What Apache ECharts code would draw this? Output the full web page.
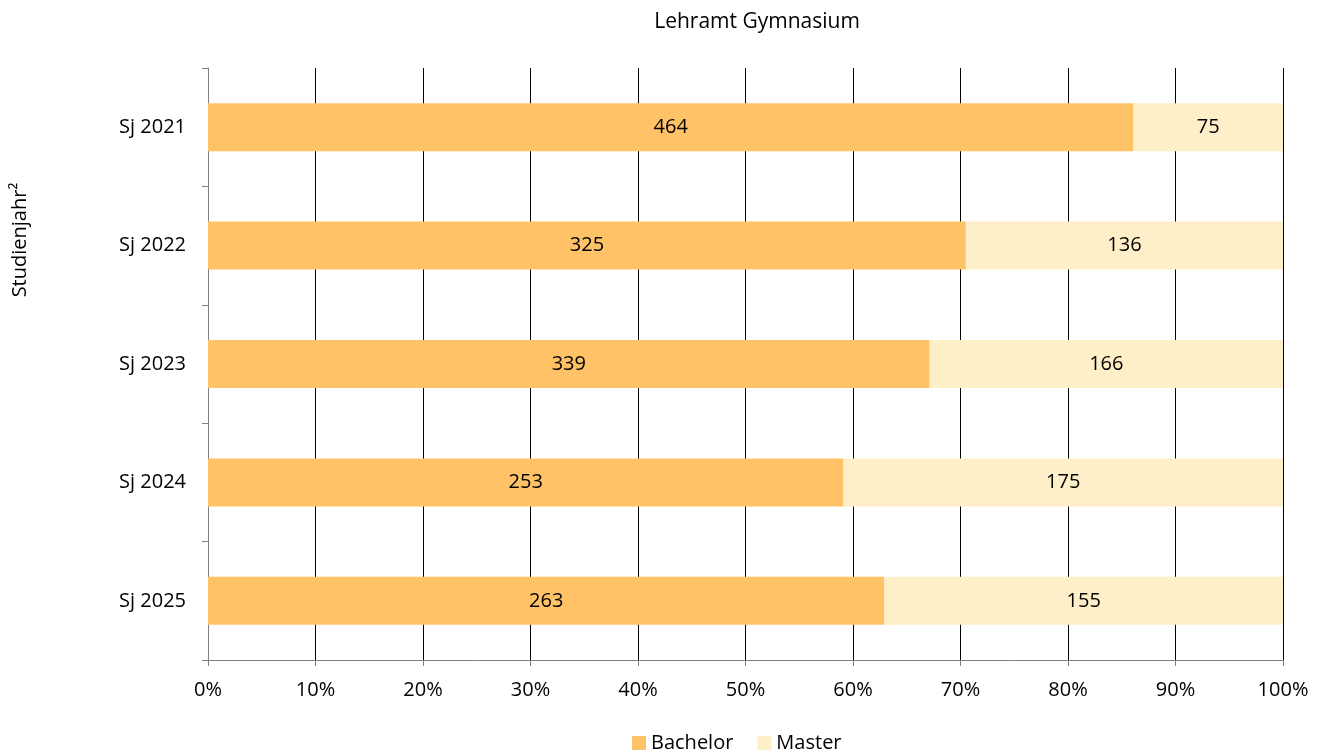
<!DOCTYPE html>
<html><head><meta charset="utf-8">
<script src="https://cdn.jsdelivr.net/npm/echarts@6/dist/echarts.min.js"></script>
<style>html,body{margin:0;padding:0;background:#fff}#c{width:1323px;height:754px}</style>
</head><body><div id="c"></div>
<script>
const categories = ['Sj 2021','Sj 2022','Sj 2023','Sj 2024','Sj 2025'];
const bachelor = [464, 325, 339, 253, 263];
const master = [75, 136, 166, 175, 155];
const xTicks = [0,10,20,30,40,50,60,70,80,90,100];

const totals = bachelor.map((b,i)=>b+master[i]);
const bShare = bachelor.map((b,i)=>b/totals[i]*100);
const mShare = master.map((m,i)=>m/totals[i]*100);
const FONT = '"Open Sans", "Liberation Sans", sans-serif';
const FS = 20;

const chart = echarts.init(document.getElementById('c'));
chart.setOption({
  animation:false,
  grid:{left:208,right:40,top:68,bottom:94},
  legend:{left:627,top:728,itemWidth:14,itemHeight:14,itemGap:24,icon:'rect',
    textStyle:{fontFamily:FONT,fontSize:FS,color:'#000'},data:['Bachelor','Master']},
  xAxis:{type:'value',min:0,max:100,interval:10,
    axisLine:{show:true,lineStyle:{color:'#808080'}},
    axisTick:{show:true,length:6,lineStyle:{color:'#808080'}},
    axisLabel:{formatter:v=>v+'%',fontFamily:FONT,fontSize:FS,color:'#000',margin:20},
    splitLine:{show:true,lineStyle:{color:'#000',width:1}}},
  yAxis:{type:'category',data:categories,inverse:true,
    axisLine:{show:true,lineStyle:{color:'#808080'}},
    axisTick:{show:true,length:6,alignWithLabel:false,lineStyle:{color:'#808080'}},
    axisLabel:{fontFamily:FONT,fontSize:FS,color:'#000',margin:22}},
  graphic:[
    {type:'text',x:757,y:22,
     style:{text:'Lehramt Gymnasium',fontFamily:FONT,fontSize:21,fill:'#000',textAlign:'center',textVerticalAlign:'middle'}},
    {type:'text',x:20,y:240,rotation:Math.PI/2,
     style:{text:'Studienjahr²',fontFamily:FONT,fontSize:FS,fill:'#000',textAlign:'center',textVerticalAlign:'middle'}}],
  series:[
    {name:'Bachelor',type:'bar',stack:'s',barWidth:48,data:bShare,
     itemStyle:{color:'#FFC266'},
     label:{show:true,position:'inside',fontFamily:FONT,fontSize:FS,color:'#000',formatter:p=>bachelor[p.dataIndex]}},
    {name:'Master',type:'bar',stack:'s',barWidth:48,data:mShare,
     itemStyle:{color:'#FFEFC9'},
     label:{show:true,position:'inside',fontFamily:FONT,fontSize:FS,color:'#000',formatter:p=>master[p.dataIndex]}}
  ]
});
</script></body></html>
